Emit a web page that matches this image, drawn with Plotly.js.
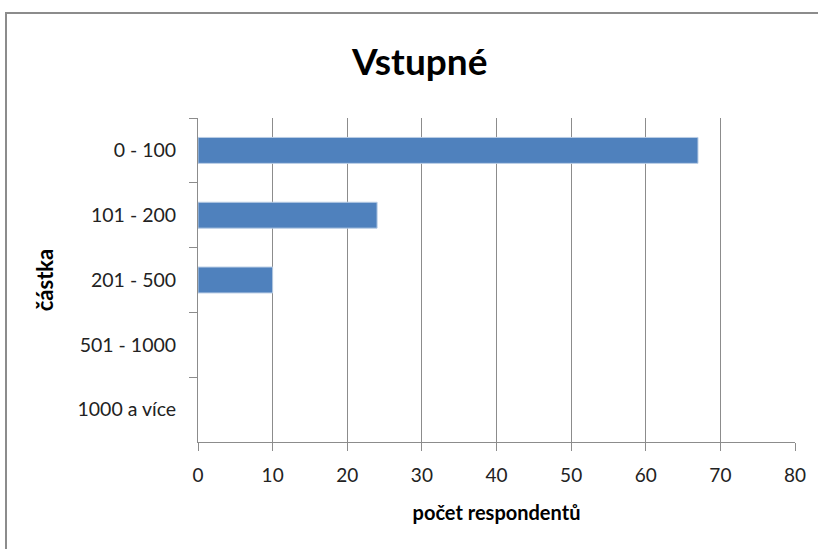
<!DOCTYPE html>
<html>
<head>
<meta charset="utf-8">
<script src="https://cdn.plot.ly/plotly-3.0.1.min.js"></script>
<style>html,body{margin:0;padding:0;background:#fff;}#chart{width:818px;height:549px;}</style>
</head>
<body>
<div id="chart"></div>
<script>
const categories = ["0 - 100", "101 - 200", "201 - 500", "501 - 1000", "1000 a více"];
const respondents = [67, 24, 10, 0, 0];
const xTicks = [0, 10, 20, 30, 40, 50, 60, 70, 80];

const trace = {
  type: "bar",
  orientation: "h",
  y: categories,
  x: respondents,
  marker: {color: "#4F81BD", line: {color: "#B9CDE5", width: respondents.map(v => v > 0 ? 1 : 0)}},
  hoverinfo: "x+y"
};

const layout = {
  width: 818, height: 549,
  margin: {l: 198, r: 23, t: 118, b: 107},
  paper_bgcolor: "#ffffff",
  plot_bgcolor: "#ffffff",
  font: {family: "Lato, 'Open Sans', sans-serif", color: "#000000", size: 18},
  bargap: 0.6,
  showlegend: false,
  title: {
    text: "<b>Vstupné</b>",
    font: {family: "Lato, 'Open Sans', sans-serif", size: 37, color: "#000"},
    xref: "container", x: 0.513, xanchor: "center",
    yref: "container", y: 0.887, yanchor: "middle"
  },
  xaxis: {
    range: [0, 80],
    tickvals: xTicks,
    ticktext: xTicks.map(String),
    showgrid: true, gridcolor: "#8C8C8C", gridwidth: 1,
    zeroline: false,
    showline: true, linecolor: "#8C8C8C", linewidth: 1,
    ticks: "outside", ticklen: 8, tickcolor: "#8C8C8C",
    ticklabelstandoff: 8,
    tickfont: {size: 19, color: "#222"},
    title: {text: "<b>počet respondentů</b>", font: {size: 20, color: "#000"}, standoff: 21},
    fixedrange: true
  },
  yaxis: {
    type: "category",
    autorange: "reversed",
    showgrid: false,
    zeroline: false,
    showline: true, linecolor: "#8C8C8C", linewidth: 1,
    ticks: "outside", ticklen: 8, tickcolor: "#8C8C8C",
    tickson: "boundaries",
    ticklabelstandoff: 17,
    tickfont: {size: 19.5, color: "#222"},
    title: {text: "<b>částka</b>", font: {size: 22, color: "#000"}, standoff: 17},
    fixedrange: true
  },
  shapes: [{
    type: "rect", xref: "paper", yref: "paper",
    x0: -0.3216, x1: 1.06, y0: -0.37, y1: 1.324,
    line: {color: "#8C8C8C", width: 2}, fillcolor: "rgba(0,0,0,0)", layer: "below"
  }]
};

Plotly.newPlot("chart", [trace], layout, {displayModeBar: false, staticPlot: true});
</script>
</body>
</html>
